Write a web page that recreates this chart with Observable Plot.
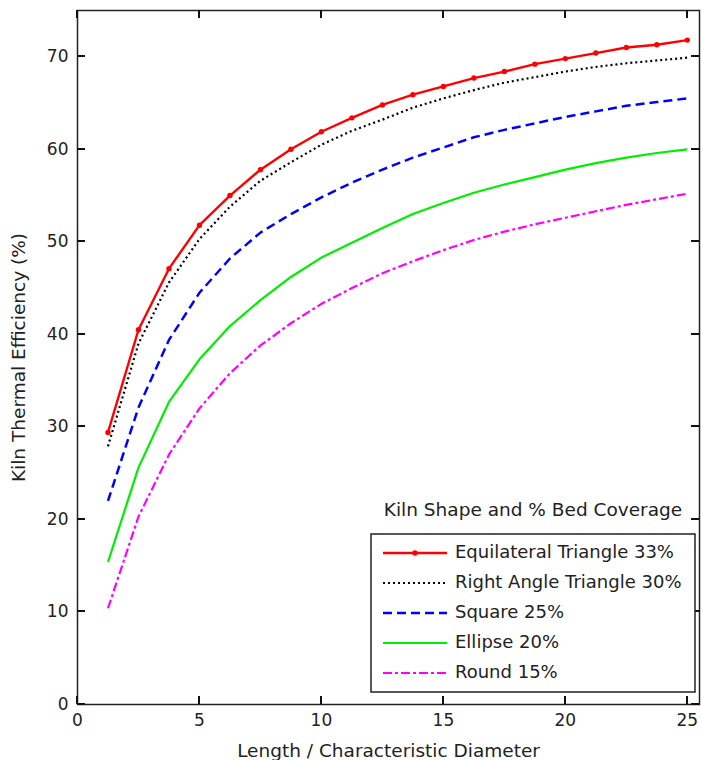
<!DOCTYPE html>
<html>
<head>
<meta charset="utf-8">
<script src="https://cdn.jsdelivr.net/npm/d3@7"></script>
<script src="https://cdn.jsdelivr.net/npm/@observablehq/plot@0.6"></script>
<style>
  html, body { margin: 0; padding: 0; background: #fff; }
  #chart svg { display: block; }
</style>
</head>
<body>
<div id="chart"></div>
<script>
const xValues = [1.25, 2.5, 3.75, 5, 6.25, 7.5, 8.75, 10, 11.25, 12.5, 13.75, 15, 16.25, 17.5, 18.75, 20, 21.25, 22.5, 23.75, 25];
const equilateralTriangle = [29.4, 40.5, 47.1, 51.8, 55.0, 57.8, 60.0, 61.9, 63.4, 64.8, 65.9, 66.8, 67.7, 68.4, 69.2, 69.8, 70.4, 71.0, 71.3, 71.8];
const rightAngleTriangle = [27.9, 39.0, 45.6, 50.3, 53.8, 56.6, 58.6, 60.5, 62.0, 63.2, 64.5, 65.5, 66.4, 67.2, 67.8, 68.4, 68.9, 69.3, 69.6, 69.9];
const square = [22.0, 32.1, 39.4, 44.5, 48.2, 51.0, 53.0, 54.8, 56.4, 57.8, 59.1, 60.2, 61.3, 62.1, 62.8, 63.5, 64.1, 64.7, 65.1, 65.5];
const ellipse = [15.4, 25.6, 32.7, 37.3, 40.9, 43.7, 46.2, 48.3, 49.9, 51.5, 53.0, 54.2, 55.3, 56.2, 57.0, 57.8, 58.5, 59.1, 59.6, 60.0];
const round = [10.4, 20.3, 27.0, 32.0, 35.8, 38.8, 41.2, 43.3, 45.0, 46.6, 47.9, 49.1, 50.2, 51.1, 51.9, 52.6, 53.3, 54.0, 54.6, 55.2];
const seriesNames = ["Equilateral Triangle 33%", "Right Angle Triangle 30%", "Square 25%", "Ellipse 20%", "Round 15%"];
const xTicks = [0, 5, 10, 15, 20, 25];
const yTicks = [0, 10, 20, 30, 40, 50, 60, 70];
const xLabel = "Length / Characteristic Diameter";
const yLabel = "Kiln Thermal Efficiency (%)";
const legendTitle = "Kiln Shape and % Bed Coverage";

const seriesValues = [equilateralTriangle, rightAngleTriangle, square, ellipse, round];
const styles = [
  {stroke: "#ff0000", strokeWidth: 2.4, dash: null, marker: true},
  {stroke: "#000000", strokeWidth: 2.2, dash: "2,3", marker: false},
  {stroke: "#0000ff", strokeWidth: 2.5, dash: "9,5", marker: false},
  {stroke: "#00ee00", strokeWidth: 2.2, dash: null, marker: false},
  {stroke: "#ff00ff", strokeWidth: 2.2, dash: "9,3,3,3", marker: false}
];
const FONT = "DejaVu Sans";

const W = 701, H = 760;
const M = {left: 77, right: 2, top: 10, bottom: 56};
const TICK = 8;

const rows = seriesValues.map((vals, i) => xValues.map((x, j) => ({x, y: vals[j], series: seriesNames[i]})));

const marks = [];
rows.forEach((data, i) => {
  const s = styles[i];
  marks.push(Plot.line(data, {x: "x", y: "y", stroke: s.stroke, strokeWidth: s.strokeWidth, strokeDasharray: s.dash, strokeLinecap: "butt", strokeLinejoin: "round"}));
  if (s.marker) marks.push(Plot.dot(data, {x: "x", y: "y", r: 2.7, fill: s.stroke, stroke: "none"}));
});

const chart = Plot.plot({
  width: W,
  height: H,
  marginLeft: M.left,
  marginRight: M.right,
  marginTop: M.top,
  marginBottom: M.bottom,
  style: {fontFamily: FONT, fontSize: "17px", color: "#222", background: "#fff"},
  x: {domain: [0, 25.5]},
  y: {domain: [0, 75]},
  marks: [
    Plot.axisX({ticks: xTicks, tickSize: 0, tickPadding: 9, tickFormat: d => String(d), label: xLabel, labelAnchor: "center", labelArrow: "none", labelOffset: 52, fontSize: 17}),
    Plot.axisY({ticks: yTicks, tickSize: 0, tickPadding: 9, tickFormat: d => String(d), label: yLabel, labelAnchor: "center", labelArrow: "none", labelOffset: 66, fontSize: 17}),
    ...marks,
    Plot.frame({stroke: "#222", strokeWidth: 1.5})
  ]
});
document.getElementById("chart").appendChild(chart);

(function decorate() {
  const svg = d3.select(chart);
  svg.selectAll("g[aria-label='x-axis label'] text, g[aria-label='y-axis label'] text").attr("font-size", 18.5);

  // inward tick marks on all four sides (MATLAB style), positioned with Plot's own scales
  const sx = chart.scale("x"), sy = chart.scale("y");
  const fLeft = M.left, fRight = W - M.right, fTop = M.top, fBottom = H - M.bottom;
  const tg = svg.append("g").attr("fill", "none");
  const addTick = (x1, y1, x2, y2) => tg.append("path")
    .attr("d", `M${x1},${y1}L${x2},${y2}`)
    .attr("stroke", "#111").attr("stroke-width", 2);
  xTicks.forEach(t => {
    const px = Math.round(sx.apply(t));
    addTick(px, fBottom, px, fBottom - TICK);
    addTick(px, fTop, px, fTop + TICK);
  });
  yTicks.forEach(t => {
    const py = Math.round(sy.apply(t));
    addTick(fLeft, py, fLeft + TICK, py);
    addTick(fRight, py, fRight - TICK, py);
  });

  // Legend drawn into the plot's SVG (MATLAB-style box, lower right)
  const box = {x: fRight - 328, y: fBottom - 170, w: 324, h: 158};
  const lg = svg.append("g").attr("font-family", FONT).attr("font-size", 18).attr("fill", "#222");
  lg.append("text").attr("x", box.x + box.w / 2).attr("y", box.y - 23).attr("text-anchor", "middle").attr("dominant-baseline", "middle").attr("font-size", 18.5).text(legendTitle);
  lg.append("rect").attr("x", box.x).attr("y", box.y).attr("width", box.w).attr("height", box.h)
    .attr("fill", "#fff").attr("stroke", "#222").attr("stroke-width", 1.5);
  seriesNames.forEach((name, i) => {
    const s = styles[i];
    const cy = box.y + 19 + i * 30;
    const x1 = box.x + 12, x2 = box.x + 76;
    lg.append("line").attr("x1", x1).attr("x2", x2).attr("y1", cy).attr("y2", cy)
      .attr("stroke", s.stroke).attr("stroke-width", s.strokeWidth)
      .attr("stroke-dasharray", s.dash);
    if (s.marker) lg.append("circle").attr("cx", (x1 + x2) / 2).attr("cy", cy).attr("r", 2.7).attr("fill", s.stroke);
    lg.append("text").attr("x", box.x + 84).attr("y", cy).attr("text-anchor", "start").attr("dominant-baseline", "middle").text(name);
  });
})();
</script>
</body>
</html>
